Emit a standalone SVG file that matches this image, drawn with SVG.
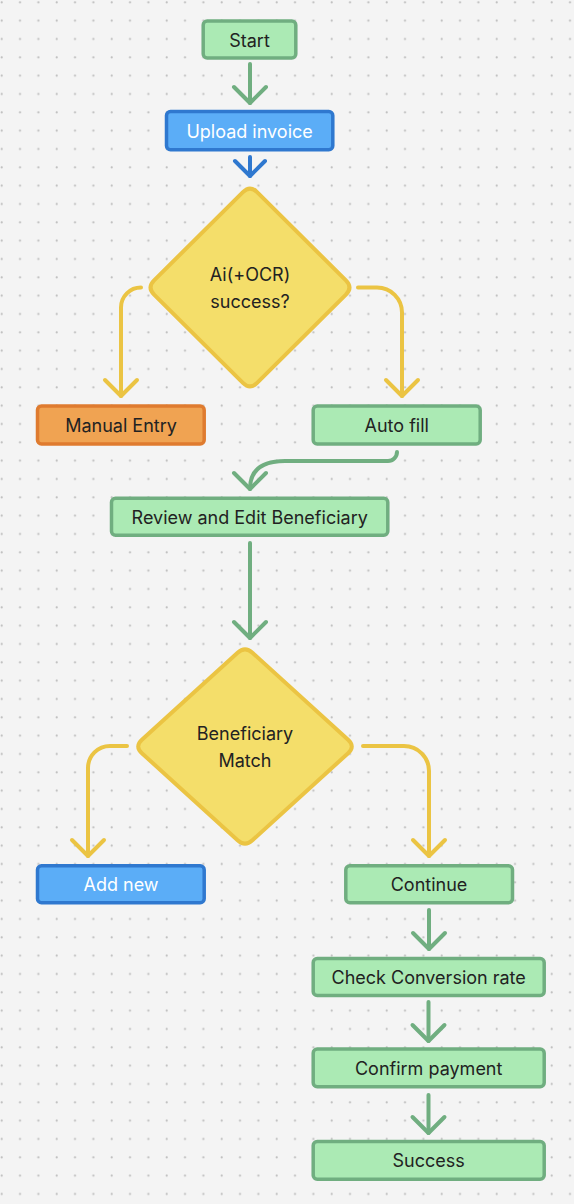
<svg xmlns="http://www.w3.org/2000/svg" width="574" height="1204" viewBox="0 0 574 1204">
<style>
.t{font-family:Inter,"Noto Sans","Liberation Sans",sans-serif;font-size:18px;fill:#222222;text-anchor:middle;dominant-baseline:central}
.w{fill:#ffffff}
.g{fill:#abeab4;stroke:#70ae80;stroke-width:3.5}
.b{fill:#5badf7;stroke:#2f78cf;stroke-width:3.5}
.o{fill:#f0a352;stroke:#df7b2f;stroke-width:3.5}
.y{fill:#f4de6a;stroke:#ebc443;stroke-width:4;stroke-linejoin:round}
.c{fill:none;stroke-width:4;stroke-linecap:round;stroke-linejoin:round}
.cg{stroke:#70ae80}
.cb{stroke:#2f78cf}
.cy{stroke:#ebc443}
</style>
<defs>
<pattern id="dots" patternUnits="userSpaceOnUse" width="18.333" height="18.333">
<circle cx="1.7" cy="2.3" r="1.1" fill="#bdbdbd"/>
</pattern>
<marker id="ag" markerUnits="userSpaceOnUse" viewBox="-20 -20 40 40" markerWidth="40" markerHeight="40" refX="0" refY="0" orient="auto" overflow="visible">
<path d="M-16,-16 L0,0 L-16,16" fill="none" stroke="#70ae80" stroke-width="4" stroke-linecap="round" stroke-linejoin="round"/>
</marker>
<marker id="ab" markerUnits="userSpaceOnUse" viewBox="-20 -20 40 40" markerWidth="40" markerHeight="40" refX="0" refY="0" orient="auto" overflow="visible">
<path d="M-15,-15 L0,0 L-15,15" fill="none" stroke="#2f78cf" stroke-width="4" stroke-linecap="round" stroke-linejoin="round"/>
</marker>
<marker id="ay" markerUnits="userSpaceOnUse" viewBox="-20 -20 40 40" markerWidth="40" markerHeight="40" refX="0" refY="0" orient="auto" overflow="visible">
<path d="M-16,-16 L0,0 L-16,16" fill="none" stroke="#ebc443" stroke-width="4" stroke-linecap="round" stroke-linejoin="round"/>
</marker>
</defs>
<rect width="574" height="1204" fill="#f4f4f4"/>
<rect width="574" height="1204" fill="url(#dots)"/>

<g id="connectors">
<path class="c cg" d="M250 64 V103" marker-end="url(#ag)"/>
<path class="c cb" d="M250 157 V176" marker-end="url(#ab)"/>
<path class="c cy" d="M141 287.5 A20 20 0 0 0 121 307.5 V396" marker-end="url(#ay)"/>
<path class="c cy" d="M358 287.5 H377 A25 25 0 0 1 402 312.5 V396" marker-end="url(#ay)"/>
<path class="c cg" d="M397 452 A9 9 0 0 1 388 461 H285 C262 461 250 470 250 489" marker-end="url(#ag)"/>
<path class="c cg" d="M250 543 V638" marker-end="url(#ag)"/>
<path class="c cy" d="M127 746 H110 A22 22 0 0 0 88 768 V856" marker-end="url(#ay)"/>
<path class="c cy" d="M363 746 H404 A25 25 0 0 1 429 771 V856" marker-end="url(#ay)"/>
<path class="c cg" d="M429 910 V949" marker-end="url(#ag)"/>
<path class="c cg" d="M428.5 1002 V1041" marker-end="url(#ag)"/>
<path class="c cg" d="M428.5 1095 V1133" marker-end="url(#ag)"/>
</g>

<g id="start">
<rect class="g" x="203.2" y="21" width="92.6" height="37" rx="4"/>
<text class="t" x="249.5" y="40">Start</text>
</g>
<g id="upload">
<rect class="b" x="166.5" y="111.5" width="166.3" height="38.3" rx="4"/>
<text class="t w" x="249.6" y="131">Upload invoice</text>
</g>
<g id="decision1">
<path class="y" d="M242.9 192.1 Q250 185 257.1 192.1 L345.9 280.4 Q353 287.5 345.9 294.6 L257.1 382.9 Q250 390 242.9 382.9 L154.1 294.6 Q147 287.5 154.1 280.4 Z"/>
<text class="t" x="250" y="274">Ai(+OCR)</text>
<text class="t" x="250" y="301">success?</text>
</g>
<g id="manual">
<rect class="o" x="37.5" y="406" width="166.7" height="38" rx="4"/>
<text class="t" x="121" y="425.5">Manual Entry</text>
</g>
<g id="autofill">
<rect class="g" x="313.2" y="406" width="167" height="38" rx="4"/>
<text class="t" x="396.7" y="425.5">Auto fill</text>
</g>
<g id="review">
<rect class="g" x="111.5" y="498.2" width="276.3" height="37" rx="4"/>
<text class="t" x="249.7" y="517">Review and Edit Beneficiary</text>
</g>
<g id="decision2">
<path class="y" d="M237.6 652.7 Q245 646 252.4 652.7 L348.1 739.8 Q355.5 746.5 348.1 753.2 L252.4 840.3 Q245 847 237.6 840.3 L141.9 753.2 Q134.5 746.5 141.9 739.8 Z"/>
<text class="t" x="245" y="733.5">Beneficiary</text>
<text class="t" x="245" y="760.5">Match</text>
</g>
<g id="addnew">
<rect class="b" x="37.5" y="865.8" width="166.7" height="37" rx="4"/>
<text class="t w" x="121" y="884.5">Add new</text>
</g>
<g id="continue">
<rect class="g" x="345.8" y="865.8" width="166.7" height="37" rx="4"/>
<text class="t" x="429" y="884.5">Continue</text>
</g>
<g id="check">
<rect class="g" x="313.2" y="958.5" width="231" height="37" rx="4"/>
<text class="t" x="428.7" y="977">Check Conversion rate</text>
</g>
<g id="confirm">
<rect class="g" x="313.2" y="1049" width="231" height="37.8" rx="4"/>
<text class="t" x="428.7" y="1068.5">Confirm payment</text>
</g>
<g id="success">
<rect class="g" x="313.2" y="1141.5" width="231" height="37.8" rx="4"/>
<text class="t" x="428.7" y="1160.5">Success</text>
</g>
</svg>
